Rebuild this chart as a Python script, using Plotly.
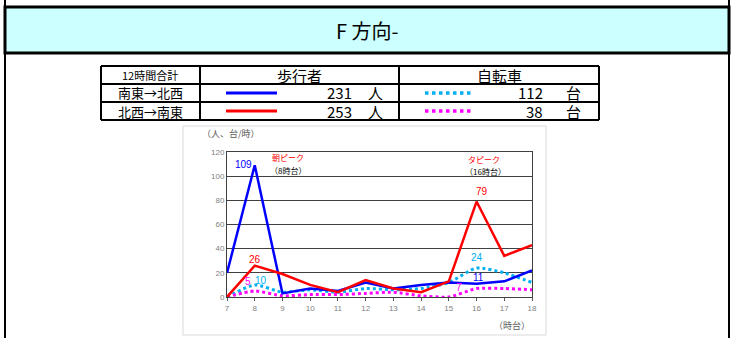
import plotly.graph_objects as go

W, H = 734, 338
hours = [7, 8, 9, 10, 11, 12, 13, 14, 15, 16, 17, 18]
ped_se_nw = [20, 109, 3, 7, 5, 12, 7, 10, 12, 11, 13, 22]
ped_nw_se = [0, 26, 19, 10, 4, 14, 7, 4, 13, 79, 34, 43]
bike_se_nw = [0, 10, 4, 6, 4, 7, 6, 7, 12, 24, 20, 12]
bike_nw_se = [0, 5, 1, 2, 2, 3, 4, 1, 0, 7, 7, 6]
y_ticks = [0, 20, 40, 60, 80, 100, 120]

JP = "Noto Sans CJK JP"

def px(x):
    return x / W

def py(y):
    return 1 - y / H

fig = go.Figure()
fig.add_trace(go.Scatter(x=hours, y=bike_se_nw, mode="lines", line=dict(color="#00b0f0", width=3, dash="dot", shape="spline", smoothing=0.6)))
fig.add_trace(go.Scatter(x=hours, y=bike_nw_se, mode="lines", line=dict(color="#ff00ff", width=3, dash="dot", shape="spline", smoothing=0.6)))
fig.add_trace(go.Scatter(x=hours, y=ped_se_nw, mode="lines", line=dict(color="#0000ff", width=2.5)))
fig.add_trace(go.Scatter(x=hours, y=ped_nw_se, mode="lines", line=dict(color="#ff0000", width=2.5)))

shapes = []
def line(x0, y0, x1, y1, color="black", width=2, dash="solid"):
    shapes.append(dict(type="line", xref="paper", yref="paper", x0=px(x0), y0=py(y0), x1=px(x1), y1=py(y1),
                       line=dict(color=color, width=width, dash=dash), layer="above"))

# chart panel
shapes.append(dict(type="rect", xref="paper", yref="paper", x0=px(183), y0=py(335), x1=px(546), y1=py(126),
                   line=dict(color="#d9d9d9", width=1), fillcolor="white", layer="below"))
# title bar
shapes.append(dict(type="rect", xref="paper", yref="paper", x0=px(5), y0=py(53), x1=px(729), y1=py(7),
                   line=dict(color="black", width=3), fillcolor="#ccffff", layer="below"))
line(5, 0, 5, 338, width=2)
line(729, 0, 729, 338, width=2)
# table
line(101, 66, 599, 66)
line(101, 84, 599, 84)
line(101, 102, 599, 102)
line(101, 120, 599, 120)
line(101, 66, 101, 120)
line(200, 66, 200, 120)
line(399, 66, 399, 120)
line(599, 66, 599, 120)
# legend samples
line(226, 93, 277, 93, color="#0000ff", width=3)
line(226, 111, 277, 111, color="#ff0000", width=3)
line(425, 93, 473, 93, color="#00b0f0", width=3.5, dash="dot")
line(425, 111, 473, 111, color="#ff00ff", width=3.5, dash="dot")

ann = []
def text(x, y, s, size=12, color="black", xanchor="center", font=JP):
    ann.append(dict(xref="paper", yref="paper", x=px(x), y=py(y), text=s, showarrow=False,
                    xanchor=xanchor, yanchor="middle", font=dict(size=size, color=color, family=font)))

text(367, 30, "F 方向-", size=20)
text(150, 75, "12時間合計", size=11)
text(299, 75, "歩行者", size=15)
text(499, 75, "自転車", size=15)
text(150, 93, "南東→北西", size=13)
text(150, 111, "北西→南東", size=13)
text(354, 93, "231", size=15, xanchor="right")
text(354, 111, "253", size=15, xanchor="right")
text(375, 93, "人", size=15)
text(375, 111, "人", size=15)
text(545, 93, "112", size=15, xanchor="right")
text(545, 111, "38", size=15, xanchor="right")
text(573, 93, "台", size=15)
text(573, 111, "台", size=15)
text(231, 133, "（人、台/時）", size=9, color="#595959")
text(512, 325, "（時台）", size=9, color="#595959")
text(288, 158, "朝ピーク", size=8, color="#ff0000")
text(288, 170, "（8時台）", size=8)
text(484, 159, "タピーク", size=8, color="#ff0000")
text(485, 171, "（16時台）", size=8)

def dlabel(x, y, s, color):
    ann.append(dict(xref="x", yref="y", x=x, y=y, text=s, showarrow=False, xanchor="center", yanchor="middle",
                    font=dict(size=10, color=color, family="Liberation Sans")))

dlabel(7.59, 110, "109", "#0000ff")
dlabel(8.0, 31, "26", "#ff0000")
dlabel(7.76, 12.5, "5", "#ff00ff")
dlabel(8.21, 14, "10", "#00b0f0")
dlabel(16.2, 87.5, "79", "#ff0000")
dlabel(16.0, 32.5, "24", "#00b0f0")
dlabel(16.07, 16.5, "11", "#0000ff")
dlabel(15.37, 7.5, "7", "#ff00ff")

fig.update_layout(
    width=W, height=H, margin=dict(l=0, r=0, t=0, b=0, autoexpand=False),
    paper_bgcolor="white", plot_bgcolor="white", showlegend=False,
    shapes=shapes, annotations=ann,
    xaxis=dict(domain=[px(227), px(532)], range=[7, 18], tickvals=hours, ticks="outside", ticklen=3,
               tickcolor="#595959", showline=True, linecolor="#404040", linewidth=1, mirror=True,
               showgrid=False, zeroline=False, fixedrange=True, automargin=False,
               tickfont=dict(size=8, color="#7f7f7f", family="Liberation Sans")),
    yaxis=dict(domain=[1 - 297 / H, 1 - 152 / H], range=[0, 120], tickvals=y_ticks, ticks="",
               showline=True, linecolor="#404040", linewidth=1, mirror=True, automargin=False,
               showgrid=True, gridcolor="#404040", gridwidth=1, zeroline=False, fixedrange=True,
               tickfont=dict(size=8, color="#7f7f7f", family="Liberation Sans")),
)

fig.write_html("out.html", config={"displayModeBar": False},
               post_script="document.body.style.margin='0';document.body.style.overflow='hidden';")
